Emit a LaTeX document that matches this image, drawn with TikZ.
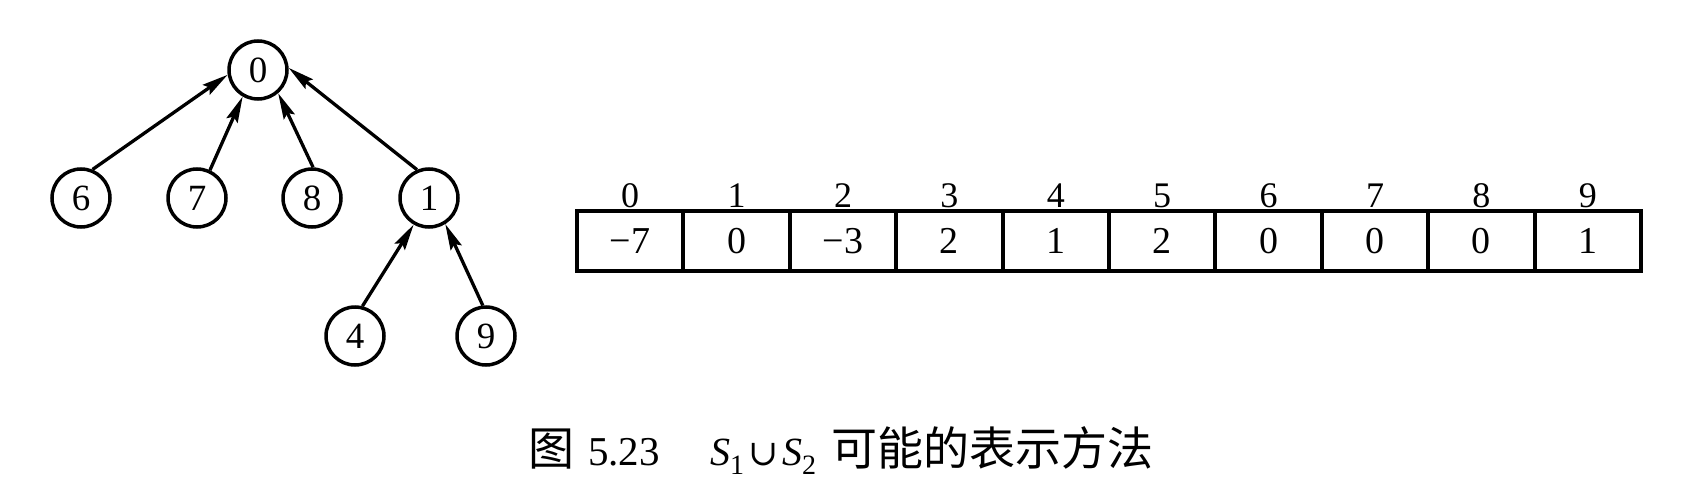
\documentclass[tikz,border=0pt]{standalone}
\usepackage{fontspec}
\setmainfont{Liberation Serif}
\newfontfamily\cjk{Noto Sans CJK SC}
\newfontfamily\symb{DejaVu Serif}
\usetikzlibrary{arrows.meta}
\begin{document}
\begin{tikzpicture}[x=1pt,y=-1pt,
  vert/.style={circle,draw,line width=3.5pt,minimum size=58pt,inner sep=0pt,font=\fontsize{37}{40}\selectfont},
  link/.style={line width=3.3pt,-{Stealth[length=26pt,width=12pt,inset=4pt]}},
  cell/.style={rectangle,draw,line width=4pt,minimum width=106.4pt,minimum height=60pt,inner sep=0pt,font=\fontsize{38}{40}\selectfont},
  idx/.style={anchor=base,inner sep=0pt,font=\fontsize{36}{40}\selectfont},
  captext/.style={anchor=base west,inner sep=0pt}]
\useasboundingbox[fill=white] (0,0) rectangle (1694,492);
% tree
\node[vert] (n0) at (258,70) {0};
\node[vert] (n6) at (81,198) {6};
\node[vert] (n7) at (197,198) {7};
\node[vert] (n8) at (312,198) {8};
\node[vert] (n1) at (429,198) {1};
\node[vert] (n4) at (355,336) {4};
\node[vert] (n9) at (486,336) {9};
\draw[link] (n6.68) -- (n0.189);
\draw[link] (n7.65) -- (n0.240);
\draw[link] (n8.88) -- (n0.311);
\draw[link] (n1.113) -- (n0.4);
\draw[link] (n4.76) -- (n1.240);
\draw[link] (n9.96) -- (n1.302);
% array
\foreach \v [count=\i from 0] in {−7,0,−3,2,1,2,0,0,0,1} {
  \node[cell] (c\i) at ({577+106.4*(\i+0.5)},241) {\v};
  \node[idx] (l\i) at ({577+106.4*(\i+0.5)},207) {\i};
}
% caption
\node[captext,font=\cjk\fontsize{46}{50}\selectfont] (fig) at (528,465) {图};
\node[captext,font=\fontsize{41}{44}\selectfont] (num) at (588,465) {5.23};
\node[captext,font=\fontsize{40}{44}\selectfont] (s1) at (710,465) {\textit{S}\textsubscript{1}};
\node[captext,font=\symb\fontsize{36}{44}\selectfont] (cup) at (748,465) {∪};
\node[captext,font=\fontsize{40}{44}\selectfont] (s2) at (782,465) {\textit{S}\textsubscript{2}};
\node[captext,font=\cjk\fontsize{46}{50}\selectfont] (txt) at (831,465) {可能的表示方法};
\end{tikzpicture}
\end{document}
